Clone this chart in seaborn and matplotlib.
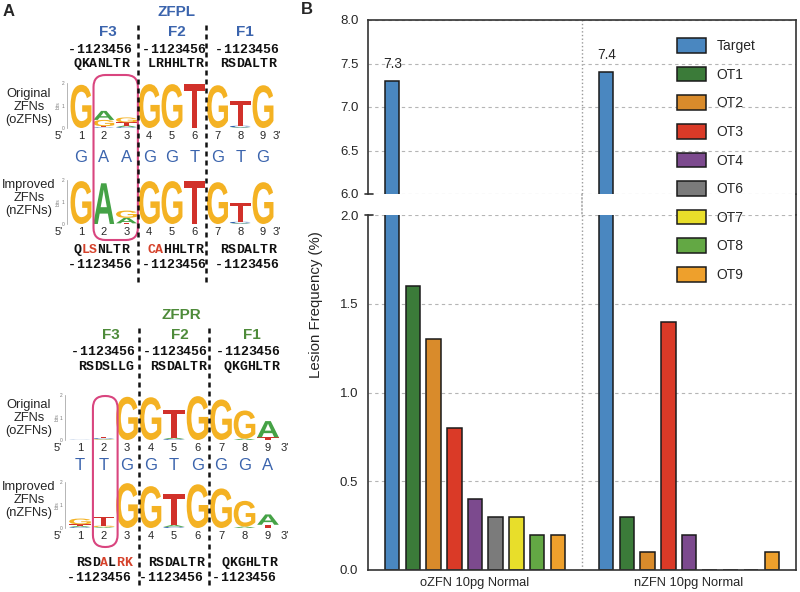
import numpy as np
import pandas as pd
import matplotlib
matplotlib.use('Agg')
import matplotlib.pyplot as plt
import seaborn as sns
from matplotlib.textpath import TextPath
from matplotlib.patches import PathPatch, FancyBboxPatch, Patch, ConnectionPatch
from matplotlib.transforms import Affine2D
from matplotlib.font_manager import FontProperties
from matplotlib.ticker import FormatStrFormatter, MultipleLocator

# ---------------- data ----------------
groups = ['oZFN 10pg Normal', 'nZFN 10pg Normal']
sites = ['Target', 'OT1', 'OT2', 'OT3', 'OT4', 'OT6', 'OT7', 'OT8', 'OT9']
ozfn_freq = [7.3, 1.6, 1.3, 0.8, 0.4, 0.3, 0.3, 0.2, 0.2]
nzfn_freq = [7.4, 0.3, 0.1, 1.4, 0.2, 0.0, 0.0, 0.0, 0.1]
site_colors = ['#4a87c0', '#3b7b39', '#d98b2b', '#da3a27', '#7c4a8e',
               '#7b7b7b', '#e8de2a', '#63a844', '#eea02c']

# sequence logo heights (bits) per position 1..9
zfpl_orig_bits = [
    {'G': 1.92},
    {'C': 0.03, 'T': 0.05, 'G': 0.28, 'A': 0.40},
    {'C': 0.04, 'A': 0.07, 'T': 0.14, 'G': 0.22},
    {'G': 1.95},
    {'G': 1.95},
    {'T': 1.95},
    {'G': 1.90},
    {'A': 0.03, 'C': 0.07, 'T': 1.10},
    {'G': 1.90},
]
zfpl_new_bits = [
    {'G': 1.95},
    {'A': 1.85},
    {'T': 0.03, 'A': 0.25, 'G': 0.33},
    {'G': 1.95},
    {'G': 1.95},
    {'T': 1.95},
    {'G': 1.90},
    {'A': 0.03, 'C': 0.07, 'T': 0.85},
    {'G': 1.90},
]
zfpr_orig_bits = [
    {'C': 0.01, 'T': 0.01},
    {'A': 0.02, 'G': 0.02, 'C': 0.04, 'T': 0.06},
    {'G': 1.92},
    {'G': 1.90},
    {'C': 0.04, 'A': 0.06, 'T': 1.25},
    {'G': 1.95},
    {'G': 1.80},
    {'A': 0.06, 'G': 1.25},
    {'T': 0.12, 'A': 0.72},
]
zfpr_new_bits = [
    {'C': 0.04, 'A': 0.05, 'T': 0.07, 'G': 0.25},
    {'A': 0.04, 'G': 0.06, 'T': 0.38},
    {'G': 1.95},
    {'G': 1.82},
    {'C': 0.05, 'A': 0.08, 'T': 1.35},
    {'G': 1.90},
    {'G': 1.72},
    {'A': 0.06, 'G': 1.12},
    {'T': 0.14, 'A': 0.45},
]
zfpl_consensus = list('GAAGGTGTG')
zfpr_consensus = list('TTGGTGGGA')

residue_index = '-1123456'
zfpl_orig_fingers = ['QKANLTR', 'LRHHLTR', 'RSDALTR']
zfpl_new_fingers = ['QLSNLTR', 'CAHHLTR', 'RSDALTR']
zfpr_orig_fingers = ['RSDSLLG', 'RSDALTR', 'QKGHLTR']
zfpr_new_fingers = ['RSDALRK', 'RSDALTR', 'QKGHLTR']
finger_names = ['F3', 'F2', 'F1']

# ---------------- style ----------------
sns.set_style('white')
plt.rcParams['font.family'] = ['Liberation Sans', 'DejaVu Sans']

W, H = 800, 592
fig = plt.figure(figsize=(8, 5.92), dpi=100)


def px_axes(x0, y0, x1, y1):
    return fig.add_axes([x0 / W, 1 - y1 / H, (x1 - x0) / W, (y1 - y0) / H])


letter_colors = {'G': '#f4b223', 'A': '#45a246', 'T': '#d1312a', 'C': '#3063b0'}
logo_font = FontProperties(family='Liberation Sans', weight='bold')
mono_font = FontProperties(family='Liberation Mono', weight='bold', size=9.5)
blue_txt = '#3b64ad'
green_txt = '#4e8b3a'
pink = '#d9457f'


def draw_letter(ax, letter, x, y0, h, width=0.92):
    tp = TextPath((0, 0), letter, size=1, prop=logo_font)
    bb = tp.get_extents()
    tr = (Affine2D().translate(-bb.x0, -bb.y0)
          .scale(width / bb.width, h / bb.height)
          .translate(x - width / 2, y0))
    ax.add_patch(PathPatch(tr.transform_path(tp), facecolor=letter_colors[letter],
                           edgecolor='none'))


def draw_logo(ax, bits, p5, p3):
    for pos, col in enumerate(bits, start=1):
        base = 0
        for letter, h in sorted(col.items(), key=lambda kv: kv[1]):
            draw_letter(ax, letter, pos, base, h)
            base += h
    ax.set_xlim(0.5, 9.5)
    ax.set_ylim(0, 2)
    ax.patch.set_alpha(0)
    for s in ['top', 'right', 'bottom']:
        ax.spines[s].set_visible(False)
    ax.spines['left'].set_color('#999999')
    ax.spines['left'].set_linewidth(0.5)
    ax.spines['left'].set_position(('outward', 2))
    ax.set_yticks([0, 1, 2])
    ax.tick_params(axis='y', labelsize=3.5, length=1.5, width=0.4, pad=0.5,
                   colors='#777777')
    ax.set_ylabel('bits', fontsize=3.5, labelpad=0.5, color='#777777')
    ax.set_xticks([])
    tr = ax.get_xaxis_transform()
    for pos in range(1, len(bits) + 1):
        ax.text(pos, -0.06, str(pos), transform=tr, ha='center', va='top', fontsize=8)
    ax.text(p5, -0.06, "5'", transform=tr, ha='center', va='top', fontsize=8)
    ax.text(p3, -0.06, "3'", transform=tr, ha='center', va='top', fontsize=8)


# ---------------- panel A ----------------
zfpl_c1, zfpl_dx = 81, 22.75
zfpr_c1, zfpr_dx = 80, 23.5

logo_rows = [
    (zfpl_orig_bits, zfpl_c1, zfpl_dx, 83, 128, 0.0, 9.6),
    (zfpl_new_bits, zfpl_c1, zfpl_dx, 180, 224, 0.0, 9.6),
    (zfpr_orig_bits, zfpr_c1, zfpr_dx, 395, 440, 0.05, 9.7),
    (zfpr_new_bits, zfpr_c1, zfpr_dx, 482, 528, 0.05, 9.7),
]
for bits, c1, dx, ytop, ybot, p5, p3 in logo_rows:
    lax = px_axes(c1 - dx / 2, ytop, c1 + 8.5 * dx, ybot)
    draw_logo(lax, bits, p5, p3)

ov = fig.add_axes([0, 0, 350 / W, 1])
ov.set_xlim(0, 350)
ov.set_ylim(H, 0)
ov.axis('off')


def mono_word(word, xc, y, ref=None):
    cw = 0.6 * 9.5 * 100 / 72
    n = len(word)
    for i, ch in enumerate(word):
        col = '#d5422b' if (ref is not None and ref[i] != ch) else '#111111'
        ov.text(xc + (i - (n - 1) / 2) * cw, y, ch, fontproperties=mono_font,
                color=col, ha='center', va='center')


ov.text(9, 11, 'A', fontsize=12, fontweight='bold', ha='center', va='center')
ov.text(307, 9, 'B', fontsize=12, fontweight='bold', ha='center', va='center')

# ZFPL block
ov.text(177, 12, 'ZFPL', fontsize=11, fontweight='bold', color=blue_txt,
        ha='center', va='center')
for name, xc in zip(finger_names, [108, 177, 245]):
    ov.text(xc, 32, name, fontsize=11, fontweight='bold', color=blue_txt,
            ha='center', va='center')
for f_old, f_new, xc in zip(zfpl_orig_fingers, zfpl_new_fingers, [100, 174, 247]):
    mono_word(residue_index, xc, 50)
    mono_word(f_old, xc + 1, 64)
    mono_word(f_new, xc + 1, 250, ref=f_old)
    mono_word(residue_index, xc, 265)
for i, ch in enumerate(zfpl_consensus):
    ov.text(zfpl_c1 + i * zfpl_dx, 158, ch, fontsize=12, color=blue_txt,
            ha='center', va='center')

# ZFPR block
ov.text(181, 315, 'ZFPR', fontsize=11, fontweight='bold', color=green_txt,
        ha='center', va='center')
for name, xc in zip(finger_names, [111, 180, 252]):
    ov.text(xc, 335, name, fontsize=11, fontweight='bold', color=green_txt,
            ha='center', va='center')
for f_old, f_new, xc in zip(zfpr_orig_fingers, zfpr_new_fingers, [103, 175, 248]):
    mono_word(residue_index, xc, 352)
    mono_word(f_old, xc + 3, 367)
    mono_word(f_new, xc + 1, 563, ref=f_old)
    mono_word(residue_index, xc - 4, 578)
for i, ch in enumerate(zfpr_consensus):
    ov.text(zfpr_c1 + i * zfpr_dx, 465, ch, fontsize=12, color=blue_txt,
            ha='center', va='center')

# row labels
for y in [107, 418]:
    ov.text(29, y, 'Original\nZFNs\n(oZFNs)', fontsize=9.3, ha='center', va='center',
            linespacing=1.1)
for y in [198, 500]:
    ov.text(29, y, 'Improved\nZFNs\n(nZFNs)', fontsize=9.3, ha='center', va='center',
            linespacing=1.1)

# finger dividers
for c1, dx, y0, y1 in [(zfpl_c1, zfpl_dx, 25, 282), (zfpr_c1, zfpr_dx, 328, 587)]:
    for k in (2.5, 5.5):
        ov.plot([c1 + k * dx] * 2, [y0, y1], color='#111111', lw=1.8,
                linestyle=(0, (2, 1.6)))

# highlight boxes
ov.add_patch(FancyBboxPatch((zfpl_c1 + 0.55 * zfpl_dx, 75), 1.95 * zfpl_dx, 165,
                            boxstyle='round,pad=0,rounding_size=12',
                            fc='none', ec=pink, lw=1.5))
ov.add_patch(FancyBboxPatch((zfpr_c1 + 0.55 * zfpr_dx, 396), 1.05 * zfpr_dx, 151,
                            boxstyle='round,pad=0,rounding_size=12',
                            fc='none', ec=pink, lw=1.5))

# ---------------- panel B ----------------
df = pd.DataFrame({
    'group': np.repeat(groups, len(sites)),
    'site': sites * len(groups),
    'freq': ozfn_freq + nzfn_freq,
})

ax_top = px_axes(368, 20, 796, 194)
ax_bot = px_axes(368, 215, 796, 570)

for ax in (ax_top, ax_bot):
    sns.barplot(data=df, x='group', y='freq', hue='site', hue_order=sites,
                palette=site_colors, saturation=1, width=0.87, gap=0.3,
                edgecolor='#1a1a1a', linewidth=1.1, errorbar=None, legend=False,
                ax=ax)
    ax.set_xlim(-0.5, 1.5)
    ax.set_xlabel('')
    ax.set_ylabel('')
    ax.yaxis.set_major_locator(MultipleLocator(0.5))
    ax.yaxis.set_major_formatter(FormatStrFormatter('%.1f'))
    ax.grid(axis='y', linestyle=(0, (3, 3)), color='#b5b5b5', lw=0.8)
    ax.set_axisbelow(True)
    ax.axvline(0.5, linestyle=':', color='#999999', lw=1, zorder=0)
    ax.tick_params(axis='y', length=0, labelsize=9.5, pad=7)
    for s in ax.spines.values():
        s.set_color('#333333')
        s.set_linewidth(1.2)

ax_top.set_ylim(6, 8)
ax_bot.set_ylim(0, 2)
ax_top.spines['bottom'].set_visible(False)
ax_bot.spines['top'].set_visible(False)
ax_top.tick_params(axis='x', bottom=False, labelbottom=False)
ax_bot.tick_params(axis='x', length=0, labelsize=9.3, pad=5)

# break markers
ax_top.plot([-0.008, 0.012], [0, 0], transform=ax_top.transAxes, color='#333333',
            lw=1.2, clip_on=False)
ax_bot.plot([-0.008, 0.012], [1, 1], transform=ax_bot.transAxes, color='#333333',
            lw=1.2, clip_on=False)

# continue right frame and group divider across the break
fig.add_artist(ConnectionPatch(xyA=(1, 0), coordsA=ax_top.transAxes,
                               xyB=(1, 1), coordsB=ax_bot.transAxes,
                               color='#333333', lw=1.2))
fig.add_artist(ConnectionPatch(xyA=(0.5, 6), coordsA=ax_top.transData,
                               xyB=(0.5, 2), coordsB=ax_bot.transData,
                               color='#999999', lw=1, linestyle=':'))

# value labels on bars reaching the upper panel
for bar in ax_top.patches:
    h = bar.get_height()
    if h > 6:
        ax_top.annotate(f'{h:.1f}', (bar.get_x() + bar.get_width() / 2, h),
                        xytext=(0, 7), textcoords='offset points',
                        ha='center', va='bottom', fontsize=9.8)

fig.text(316 / W, 1 - 305 / H, 'Lesion Frequency (%)', rotation=90,
         ha='center', va='center', fontsize=10.8)

handles = [Patch(facecolor=c, edgecolor='#1a1a1a', lw=1.1, label=s)
           for s, c in zip(sites, site_colors)]
fig.legend(handles=handles, loc='upper left', bbox_to_anchor=(677 / W, 1 - 38 / H),
           frameon=False, fontsize=10, handlelength=2.1, handleheight=1.25,
           labelspacing=0.98, handletextpad=0.75, borderaxespad=0, borderpad=0)

fig.savefig('out.png', dpi=100)
